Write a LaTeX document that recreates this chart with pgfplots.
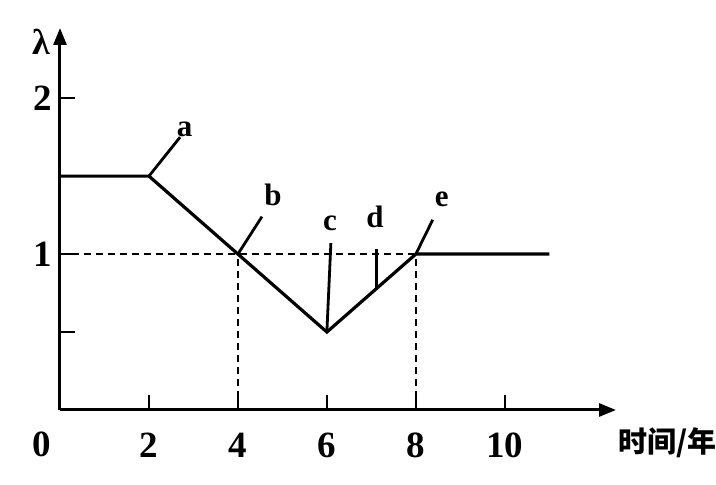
\documentclass[border=0pt]{standalone}
\usepackage{pgfplots}
\pgfplotsset{compat=1.18}
\usepackage{fontspec}
\setmainfont{Liberation Serif}
\newfontfamily\cjk{Noto Sans CJK SC}
\usetikzlibrary{arrows.meta}
\begin{document}
\begin{tikzpicture}[x=1pt,y=1pt]
\useasboundingbox (-60,-75) rectangle (656,410);
\begin{axis}[
  at={(0,0)}, anchor=origin,
  scale only axis, width=556pt, height=382pt,
  xmin=0, xmax=12.5, ymin=0, ymax=2.45,
  axis lines=left,
  axis line style={line width=3pt, -{Triangle[length=17pt,width=13pt]}},
  clip=false,
  xtick={2,4,6,8,10}, xticklabels={2,4,6,8,10},
  ytick={0.5,1,2}, yticklabels={,1,2},
  tick align=inside, major tick length=15pt,
  tick style={line width=2.4pt, black},
  tick label style={font=\bfseries\fontsize{37}{37}\selectfont, inner sep=0pt},
  xticklabel style={anchor=base, yshift=-47pt},
  yticklabel style={anchor=east, xshift=-8pt},
  /pgf/number format/assume math mode=true,
]
% reference level lambda = 1 and the years where it is reached
\addplot[black, line width=2.6pt, dash pattern=on 7pt off 5pt] coordinates {(0,1) (8,1)};
\addplot[black, line width=2.6pt, dash pattern=on 7pt off 5pt] coordinates {(4,0) (4,1)};
\addplot[black, line width=2.6pt, dash pattern=on 7pt off 5pt] coordinates {(8,0) (8,1)};
% lambda over time
\addplot[black, line width=3.2pt, line join=miter] coordinates {
  (0,1.5) (2,1.5) (4,1) (6,0.5) (8,1) (11,1)
};
% pointer lines to the marked points
\addplot[black, line width=2.8pt] coordinates {(2,1.5) (2.7,1.75)};
\addplot[black, line width=2.8pt] coordinates {(4,1) (4.54,1.24)};
\addplot[black, line width=2.8pt] coordinates {(6,0.5) (6.09,1.07)};
\addplot[black, line width=2.8pt] coordinates {(7.12,0.78) (7.12,1.03)};
\addplot[black, line width=2.8pt] coordinates {(8,1) (8.38,1.22)};
% point labels
\begin{scope}[every node/.style={font=\bfseries\fontsize{31}{31}\selectfont}]
\node at (axis cs:2.8,1.8) {a};
\node at (axis cs:4.79,1.38) {b};
\node at (axis cs:6.07,1.20) {c};
\node at (axis cs:7.08,1.24) {d};
\node at (axis cs:8.58,1.35) {e};
\end{scope}
% axis names and origin
\node[font=\bfseries\fontsize{37}{37}\selectfont, anchor=base, xshift=-18pt, yshift=-46pt, inner sep=0pt] at (axis cs:0,0) {0};
\node[font=\bfseries\fontsize{36}{36}\selectfont, xshift=-19pt, inner sep=0pt] at (axis cs:0,2.36) {λ};
\node[font=\cjk\bfseries\fontsize{29}{29}\selectfont, anchor=west, inner sep=0pt] at (axis cs:12.55,-0.21) {时间/年};
\end{axis}
\end{tikzpicture}
\end{document}
